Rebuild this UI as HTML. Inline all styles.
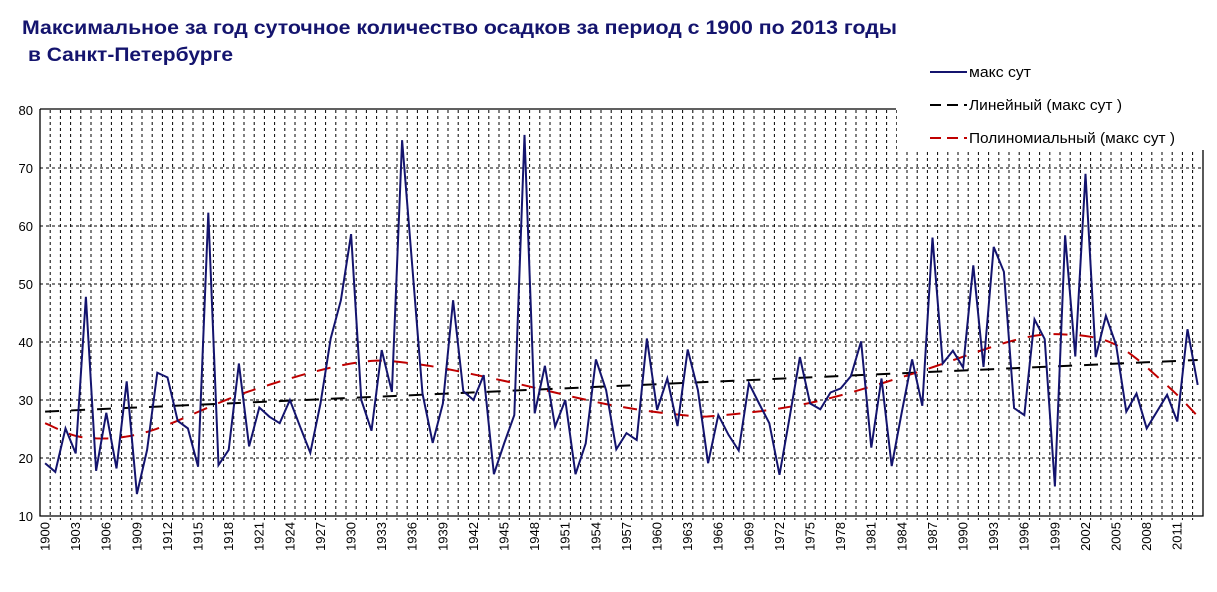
<!DOCTYPE html>
<html><head><meta charset="utf-8"><style>
html,body{margin:0;padding:0;background:#fff;}
svg{display:block;font-family:"Liberation Sans",Arial,sans-serif;}
</style></head><body>
<svg id="s" width="1217" height="592" viewBox="0 0 1217 592" xmlns="http://www.w3.org/2000/svg">
<rect width="1217" height="592" fill="#fff"/>
<g id="grid"></g>
<rect x="897" y="100" width="320" height="50" fill="#fff"/>
<g id="series"></g>
<path d="M40,109 L896,109 M40,109 L40,516 L1203,516 L1203,150" stroke="#000" stroke-width="1.3" fill="none"/>
<text x="22" y="34" font-size="19" font-weight="bold" fill="#14146e" textLength="875" lengthAdjust="spacingAndGlyphs">Максимальное за год суточное количество осадков за период с 1900 по 2013 годы</text>
<text x="28" y="61" font-size="19" font-weight="bold" fill="#14146e" textLength="205" lengthAdjust="spacingAndGlyphs">в Санкт-Петербурге</text>
<g font-size="15" fill="#000">
<line x1="930" y1="72" x2="967" y2="72" stroke="#14146e" stroke-width="2"/>
<text x="969" y="77" textLength="62" lengthAdjust="spacingAndGlyphs">макс сут</text>
<line x1="930" y1="105" x2="967" y2="105" stroke="#000" stroke-width="2" stroke-dasharray="11,6"/>
<text x="969" y="110" textLength="153" lengthAdjust="spacingAndGlyphs">Линейный (макс сут )</text>
<line x1="930" y1="138" x2="967" y2="138" stroke="#c00000" stroke-width="2" stroke-dasharray="11,6"/>
<text x="969" y="143" textLength="206" lengthAdjust="spacingAndGlyphs">Полиномиальный (макс сут )</text>
</g>
<g font-size="13" fill="#000" text-anchor="end">
<text x="33" y="115">80</text><text x="33" y="173">70</text><text x="33" y="231">60</text><text x="33" y="289">50</text>
<text x="33" y="347">40</text><text x="33" y="405">30</text><text x="33" y="463">20</text><text x="33" y="521">10</text>
</g>
<g font-size="13" fill="#000" text-anchor="end">
<text transform="translate(49.5,522) rotate(-90)">1900</text>
<text transform="translate(80.1,522) rotate(-90)">1903</text>
<text transform="translate(110.7,522) rotate(-90)">1906</text>
<text transform="translate(141.3,522) rotate(-90)">1909</text>
<text transform="translate(171.9,522) rotate(-90)">1912</text>
<text transform="translate(202.5,522) rotate(-90)">1915</text>
<text transform="translate(233.1,522) rotate(-90)">1918</text>
<text transform="translate(263.7,522) rotate(-90)">1921</text>
<text transform="translate(294.3,522) rotate(-90)">1924</text>
<text transform="translate(324.9,522) rotate(-90)">1927</text>
<text transform="translate(355.5,522) rotate(-90)">1930</text>
<text transform="translate(386.1,522) rotate(-90)">1933</text>
<text transform="translate(416.7,522) rotate(-90)">1936</text>
<text transform="translate(447.3,522) rotate(-90)">1939</text>
<text transform="translate(477.9,522) rotate(-90)">1942</text>
<text transform="translate(508.5,522) rotate(-90)">1945</text>
<text transform="translate(539.1,522) rotate(-90)">1948</text>
<text transform="translate(569.7,522) rotate(-90)">1951</text>
<text transform="translate(600.3,522) rotate(-90)">1954</text>
<text transform="translate(630.9,522) rotate(-90)">1957</text>
<text transform="translate(661.5,522) rotate(-90)">1960</text>
<text transform="translate(692.1,522) rotate(-90)">1963</text>
<text transform="translate(722.7,522) rotate(-90)">1966</text>
<text transform="translate(753.3,522) rotate(-90)">1969</text>
<text transform="translate(783.9,522) rotate(-90)">1972</text>
<text transform="translate(814.5,522) rotate(-90)">1975</text>
<text transform="translate(845.1,522) rotate(-90)">1978</text>
<text transform="translate(875.7,522) rotate(-90)">1981</text>
<text transform="translate(906.3,522) rotate(-90)">1984</text>
<text transform="translate(936.9,522) rotate(-90)">1987</text>
<text transform="translate(967.5,522) rotate(-90)">1990</text>
<text transform="translate(998.1,522) rotate(-90)">1993</text>
<text transform="translate(1028.7,522) rotate(-90)">1996</text>
<text transform="translate(1059.3,522) rotate(-90)">1999</text>
<text transform="translate(1089.9,522) rotate(-90)">2002</text>
<text transform="translate(1120.5,522) rotate(-90)">2005</text>
<text transform="translate(1151.1,522) rotate(-90)">2008</text>
<text transform="translate(1181.7,522) rotate(-90)">2011</text>
</g>
</svg>
<script>
var NS="http://www.w3.org/2000/svg";
function el(p,t,a){var e=document.createElementNS(NS,t);for(var k in a)e.setAttribute(k,a[k]);p.appendChild(e);return e;}
var g=document.getElementById("grid"),s=document.getElementById("series");
var X0=40,W=10.2;function X(i){return X0+(i+0.5)*W;}function Y(v){return 110+(80-v)*5.8;}
for(var k=1;k<114;k++){var x=X0+k*W;el(g,"line",{x1:x,y1:110,x2:x,y2:520,stroke:"#000","stroke-width":1,"stroke-dasharray":"3,3"});}
for(var v=20;v<=70;v+=10){el(g,"line",{x1:40,y1:Y(v),x2:1203,y2:Y(v),stroke:"#000","stroke-width":1,"stroke-dasharray":"3,3"});}
var d=[19.1,17.6,25.1,20.8,47.8,17.8,27.8,18.2,33.2,13.8,21.4,34.7,33.9,26.4,25.1,18.5,62.3,18.8,21.4,36.3,22,28.7,27.1,26,30,25.4,20.9,29.4,40.6,47.2,58.6,30,24.7,38.6,31.4,74.8,53,31.1,22.6,29.4,47.2,31.5,30,34.3,17.2,22.5,27.4,75.7,27.7,35.9,25.4,30,17.2,22.5,37,31.7,21.5,24.3,23.1,40.6,28.3,33.7,25.5,38.7,31.7,19.1,27.4,24,21.3,32.9,29.4,26,17.1,27.1,37.4,29.4,28.4,31.3,32,34.1,40.1,21.8,33.7,18.6,28,37,29,58,36.3,38.5,35.6,53.2,35.7,56.4,52.1,28.6,27.4,43.9,40.5,15.1,58.4,37.5,69,37.4,44.5,39.5,28,31.1,25.1,28,30.9,26.3,42.2,32.6];
el(s,"line",{x1:X(0),y1:Y(28),x2:X(113),y2:Y(36.9),stroke:"#000","stroke-width":2,"stroke-dasharray":"14,12"});
var kp=[[0,26],[4,23.5],[10,24.5],[20,31.5],[30,36.3],[36,36.3],[45,33.3],[55,29.3],[62,27.5],[66,27.3],[75,29.5],[85,34.5],[95,40.3],[100,41.3],[105,39.5],[110,32.5],[113,27.2]];
var pts=[];
for(var j=0;j<kp.length-1;j++){var p0=kp[Math.max(0,j-1)],p1=kp[j],p2=kp[j+1],p3=kp[Math.min(kp.length-1,j+2)];
for(var t=0;t<1;t+=0.1){var t2=t*t,t3=t2*t;var cr=function(a,b,c,dd){return 0.5*(2*b+(-a+c)*t+(2*a-5*b+4*c-dd)*t2+(-a+3*b-3*c+dd)*t3);};
pts.push(X(cr(p0[0],p1[0],p2[0],p3[0])).toFixed(1)+","+Y(cr(p0[1],p1[1],p2[1],p3[1])).toFixed(1));}}
pts.push(X(113)+","+Y(27.2));
el(s,"polyline",{points:pts.join(" "),fill:"none",stroke:"#c00000","stroke-width":2,"stroke-dasharray":"14,12"});
el(s,"polyline",{points:d.map(function(v,i){return X(i).toFixed(1)+","+Y(v).toFixed(1);}).join(" "),fill:"none",stroke:"#14146e","stroke-width":2});
</script>
</body></html>
